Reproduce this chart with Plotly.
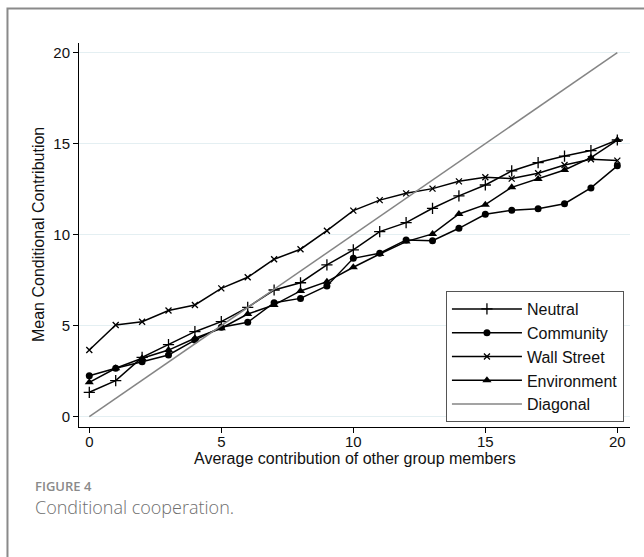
import plotly.graph_objects as go

x_vals = list(range(21))
neutral = [1.34, 1.98, 3.26, 3.96, 4.67, 5.22, 6.01, 6.96, 7.36, 8.34, 9.16,
           10.17, 10.66, 11.45, 12.13, 12.73, 13.50, 13.96, 14.32, 14.62, 15.20]
community = [2.25, 2.66, 3.02, 3.39, 4.21, 4.91, 5.19, 6.26, 6.50, 7.18, 8.70,
             8.98, 9.71, 9.67, 10.35, 11.12, 11.34, 11.43, 11.70, 12.57, 13.78]
wall_street = [3.66, 5.04, 5.22, 5.83, 6.14, 7.05, 7.66, 8.65, 9.20, 10.22, 11.32,
               11.90, 12.27, 12.53, 12.93, 13.15, 13.08, 13.37, 13.83, 14.14, 14.07]
environment = [1.89, 2.66, 3.21, 3.66, 4.31, 4.86, 5.64, 6.14, 6.91, 7.42, 8.21,
               8.94, 9.62, 10.04, 11.14, 11.65, 12.60, 13.06, 13.55, 14.23, 15.20]
diagonal_x = [0, 20]
diagonal_y = [0, 20]
tick_vals = [0, 5, 10, 15, 20]

FONT = "Liberation Sans, Arial, sans-serif"

fig = go.Figure()
series = [
    ("Neutral", neutral, dict(symbol="cross-thin-open", size=8, line=dict(width=1.3, color="black"))),
    ("Community", community, dict(symbol="circle", size=7, color="black")),
    ("Wall Street", wall_street, dict(symbol="x-thin-open", size=6, line=dict(width=1.3, color="black"))),
    ("Environment", environment, dict(symbol="triangle-up", size=8, color="black")),
]
for name, ys, mk in series:
    fig.add_trace(go.Scatter(x=x_vals, y=ys, mode="lines+markers", name=name,
                             line=dict(color="black", width=1.5), marker=mk))
fig.add_trace(go.Scatter(x=diagonal_x, y=diagonal_y, mode="lines", name="Diagonal",
                         line=dict(color="#858585", width=1.5)))

fig.update_layout(
    width=644, height=557,
    margin=dict(l=79, r=14, t=43, b=130),
    paper_bgcolor="white", plot_bgcolor="white",
    font=dict(family=FONT, size=15, color="#111"),
    showlegend=True,
    legend=dict(x=0.989, y=0.013, xanchor="right", yanchor="bottom",
                bgcolor="white", bordercolor="#555", borderwidth=1,
                font=dict(family=FONT, size=16, color="#111"),
                itemwidth=70, tracegroupgap=0),
    xaxis=dict(range=[-0.39, 20.48], tickvals=tick_vals, showgrid=False, zeroline=False,
               showline=True, linecolor="black", linewidth=1, ticks="outside",
               ticklen=5, tickcolor="black", tickfont=dict(size=15),
               ticklabelstandoff=-4),
    yaxis=dict(range=[-0.566, 20.53], tickvals=tick_vals, showgrid=True,
               gridcolor="#e4eff2", gridwidth=1, zeroline=False,
               showline=True, linecolor="black", linewidth=1, ticks="outside",
               ticklen=5, tickcolor="black", tickfont=dict(size=15)),
)

# outer figure frame
fig.add_shape(type="rect", xref="paper", yref="paper",
              x0=-0.1298, x1=1.2, y0=-0.6, y1=1.0898,
              line=dict(color="#8a8a8a", width=2), layer="below")

fig.add_annotation(text="Mean Conditional Contribution", xref="paper", yref="paper",
                   x=-0.0744, y=0.5, textangle=-90, showarrow=False,
                   xanchor="center", yanchor="middle",
                   font=dict(family=FONT, size=16, color="#111"))
fig.add_annotation(text="Average contribution of other group members", xref="paper", yref="paper",
                   x=0.5, y=-0.0833, showarrow=False, xanchor="center", yanchor="middle",
                   font=dict(family=FONT, size=16, color="#111"))
fig.add_annotation(text="FIGURE 4", xref="paper", yref="paper",
                   x=-0.0835, y=-0.1536, xanchor="left", yanchor="middle", showarrow=False,
                   font=dict(family="Open Sans, Noto Sans, sans-serif", size=13, color="#8a8a8a", weight=600))
fig.add_annotation(text="Conditional cooperation.", xref="paper", yref="paper",
                   x=-0.0835, y=-0.2083, xanchor="left", yanchor="middle", showarrow=False,
                   font=dict(family="Open Sans, Noto Sans, sans-serif", size=18, color="#6e6e6e", weight=300))

fig.write_html("out.html", config={"displayModeBar": False},
               post_script="document.body.style.margin='0px';")
